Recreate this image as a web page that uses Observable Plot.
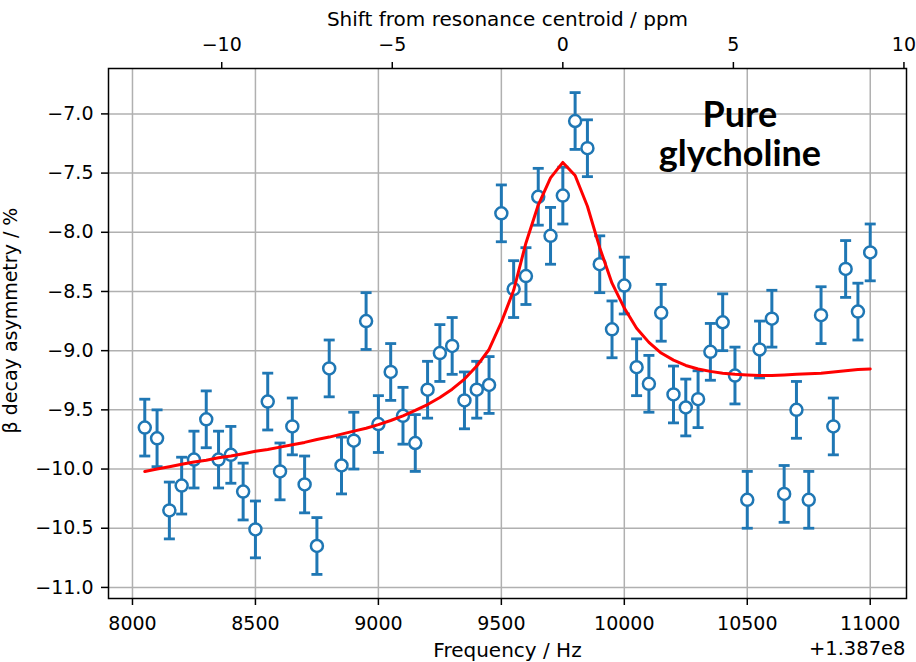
<!DOCTYPE html>
<html><head><meta charset="utf-8">
<script src="https://cdn.jsdelivr.net/npm/d3@7"></script>
<script src="https://cdn.jsdelivr.net/npm/@observablehq/plot@0.6"></script>
<style>
html,body{margin:0;padding:0;background:#fff;}
#chart{width:916px;height:662px;overflow:hidden;}
</style></head><body><div id="chart"></div>
<script>
// Frequency offsets (Hz, relative to +1.387e8)
const freq = [8050, 8100, 8150, 8200, 8250, 8300, 8350, 8400, 8450, 8500,
  8550, 8600, 8650, 8700, 8750, 8800, 8850, 8900, 8950, 9000,
  9050, 9100, 9150, 9200, 9250, 9300, 9350, 9400, 9450, 9500,
  9550, 9600, 9650, 9700, 9750, 9800, 9850, 9900, 9950, 10000,
  10050, 10100, 10150, 10200, 10250, 10300, 10350, 10400, 10450, 10500,
  10550, 10600, 10650, 10700, 10750, 10800, 10850, 10900, 10950, 11000];
// Measured beta decay asymmetry (%)
const asym = [-9.65, -9.74, -10.35, -10.14, -9.92, -9.58, -9.92, -9.88, -10.19, -10.51,
  -9.43, -10.02, -9.64, -10.13, -10.65, -9.15, -9.97, -9.76, -8.75, -9.62,
  -9.18, -9.55, -9.78, -9.33, -9.02, -8.96, -9.42, -9.33, -9.29, -7.84,
  -8.48, -8.37, -7.70, -8.03, -7.69, -7.06, -7.29, -8.27, -8.82, -8.45,
  -9.14, -9.28, -8.68, -9.37, -9.48, -9.41, -9.01, -8.76, -9.21, -10.26,
  -8.99, -8.73, -10.21, -9.50, -10.26, -8.70, -9.64, -8.31, -8.67, -8.17];
// Error bars (%)
const asymErr = [0.24, 0.24, 0.24, 0.24, 0.24, 0.24, 0.24, 0.24, 0.24, 0.24,
  0.24, 0.24, 0.24, 0.24, 0.24, 0.24, 0.24, 0.24, 0.24, 0.24,
  0.24, 0.24, 0.24, 0.24, 0.24, 0.24, 0.24, 0.24, 0.24, 0.24,
  0.24, 0.24, 0.24, 0.24, 0.24, 0.24, 0.24, 0.24, 0.24, 0.24,
  0.24, 0.24, 0.24, 0.24, 0.24, 0.24, 0.24, 0.24, 0.24, 0.24,
  0.24, 0.24, 0.24, 0.24, 0.24, 0.24, 0.24, 0.24, 0.24, 0.24];
// Fitted curve (%)
const fitAsym = [-10.02, -10.0, -9.98, -9.96, -9.94, -9.925, -9.905, -9.89, -9.87, -9.85,
  -9.835, -9.815, -9.795, -9.775, -9.75, -9.73, -9.705, -9.68, -9.655, -9.625,
  -9.59, -9.55, -9.505, -9.455, -9.395, -9.325, -9.24, -9.13, -8.99, -8.76,
  -8.49, -8.09, -7.77, -7.54, -7.41, -7.52, -7.78, -8.13, -8.43, -8.64,
  -8.81, -8.93, -9.02, -9.08, -9.125, -9.155, -9.175, -9.19, -9.2, -9.205,
  -9.21, -9.21, -9.205, -9.2, -9.195, -9.19, -9.18, -9.17, -9.16, -9.155];

const xTicks = [8000, 8500, 9000, 9500, 10000, 10500, 11000];
const yTicks = [-11.0, -10.5, -10.0, -9.5, -9.0, -8.5, -8.0, -7.5, -7.0];
const ppmTicks = [-10, -5, 0, 5, 10];
const freqBase = 1.387e8;
const centroidOffset = 9750;
const offsetLabel = "+1.387e8";
const xLabel = "Frequency / Hz";
const topLabel = "Shift from resonance centroid / ppm";
const yLabel = "β decay asymmetry / %";
const annotation = [{x: 10470, y: -6.885, text: "Pure\nglycholine"}];

const blue = "#1f77b4";
const rows = freq.map((f, i) => ({x: f, y: asym[i], lo: asym[i] - asymErr[i], hi: asym[i] + asymErr[i]}));
const fitRows = freq.map((f, i) => ({x: f, y: fitAsym[i]}));

const hzPerPpm = (freqBase + centroidOffset) / 1e6;
const ppmPos = ppmTicks.map(p => centroidOffset + p * hzPerPpm);

const xmin = d3.min(freq), xmax = d3.max(freq);
const xDomain = [xmin - 0.05 * (xmax - xmin), xmax + 0.05 * (xmax - xmin)];
const ymin = d3.min(rows, d => d.lo), ymax = d3.max(rows, d => d.hi);
const yDomain = [ymin - 0.05 * (ymax - ymin), ymax + 0.05 * (ymax - ymin)];

const capSymbol = {draw(ctx, size) { const r = Math.sqrt(size / Math.PI); ctx.moveTo(-r, 0); ctx.lineTo(r, 0); }};

const grid = {stroke: "#b0b0b0", strokeOpacity: 1, strokeWidth: 1.5};
const fmtY = d3.format(".1f");
const fmtPpm = d3.format("d");

const chart = Plot.plot({
  width: 916, height: 662,
  marginTop: 68, marginBottom: 64, marginLeft: 108, marginRight: 10,
  x: {domain: xDomain},
  y: {domain: yDomain},
  style: {fontFamily: "DejaVu Sans", fontSize: "19px", background: "white", color: "black"},
  marks: [
    Plot.gridX(xTicks, grid),
    Plot.gridY(yTicks, grid),
    Plot.axisX(xTicks, {anchor: "bottom", tickSize: 7, tickPadding: 11, strokeWidth: 1.5, fontSize: 19,
      tickFormat: d => String(d), label: null}),
    Plot.axisX(ppmPos, {anchor: "top", tickSize: 7, tickPadding: 11, strokeWidth: 1.5, fontSize: 19,
      tickFormat: (d, i) => fmtPpm(ppmTicks[i]), label: null}),
    Plot.axisY(yTicks, {anchor: "left", tickSize: 7, tickPadding: 8, strokeWidth: 1.5, fontSize: 19,
      tickFormat: fmtY, label: null}),
    Plot.text([xLabel], {frameAnchor: "bottom", textAnchor: "middle", lineAnchor: "bottom", dy: 58, fontSize: 20, fill: "black"}),
    Plot.text([topLabel], {frameAnchor: "top", textAnchor: "middle", lineAnchor: "bottom", dy: -43, fontSize: 20, fill: "black"}),
    Plot.text([yLabel], {frameAnchor: "left", textAnchor: "middle", rotate: -90, dx: -105, dy: -13, lineAnchor: "top", fontSize: 19, fill: "black"}),
    Plot.text([offsetLabel], {frameAnchor: "bottom-right", textAnchor: "end", lineAnchor: "bottom", dy: 56, dx: -1, fontSize: 19.5, fill: "black"}),
    Plot.ruleX(rows, {x: "x", y1: "lo", y2: "hi", stroke: blue, strokeWidth: 3}),
    Plot.dot(rows, {x: "x", y: "lo", symbol: capSymbol, r: 5.5, stroke: blue, strokeWidth: 2.8, fill: "none"}),
    Plot.dot(rows, {x: "x", y: "hi", symbol: capSymbol, r: 5.5, stroke: blue, strokeWidth: 2.8, fill: "none"}),
    Plot.dot(rows, {x: "x", y: "y", r: 6, stroke: blue, strokeWidth: 2.5, fill: "white"}),
    Plot.line(fitRows, {x: "x", y: "y", stroke: "red", strokeWidth: 3}),
    Plot.frame({stroke: "black", strokeWidth: 1.5}),
    Plot.text(annotation, {x: "x", y: "y", text: "text", fontFamily: "Lato", fontWeight: 700, fontSize: 36,
      lineAnchor: "top", textAnchor: "middle", lineHeight: 1.06, fill: "black"})
  ]
});
document.getElementById("chart").appendChild(chart);
</script></body></html>
